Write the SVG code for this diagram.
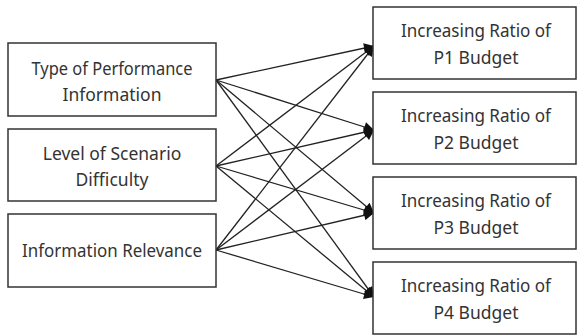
<svg xmlns="http://www.w3.org/2000/svg" width="578" height="336" viewBox="0 0 578 336">
<style>
.box{fill:#fff;stroke:#333;stroke-width:1.5}
.t{font-family:"Noto Sans","Liberation Sans",sans-serif;font-size:17.5px;fill:#333;text-anchor:middle}
.c{stroke:#222;stroke-width:1.3;fill:none;marker-end:url(#ah)}
</style>
<defs>
<marker id="ah" viewBox="0 0 10 10" refX="10" refY="5" markerWidth="11" markerHeight="10" markerUnits="userSpaceOnUse" orient="auto">
<path d="M0,0 L10,5 L0,10 z" fill="#111"/>
</marker>
</defs>
<rect width="578" height="336" fill="#fff"/>
<g id="connectors">
<line class="c" x1="216" y1="80" x2="374" y2="46"/>
<line class="c" x1="216" y1="80" x2="374" y2="130"/>
<line class="c" x1="216" y1="80" x2="374" y2="213"/>
<line class="c" x1="216" y1="80" x2="374" y2="297"/>
<line class="c" x1="216" y1="166" x2="374" y2="46"/>
<line class="c" x1="216" y1="166" x2="374" y2="130"/>
<line class="c" x1="216" y1="166" x2="374" y2="213"/>
<line class="c" x1="216" y1="166" x2="374" y2="297"/>
<line class="c" x1="216" y1="250" x2="374" y2="46"/>
<line class="c" x1="216" y1="250" x2="374" y2="130"/>
<line class="c" x1="216" y1="250" x2="374" y2="213"/>
<line class="c" x1="216" y1="250" x2="374" y2="297"/>
</g>
<g id="n1"><rect class="box" x="8" y="43" width="208" height="73"/><text class="t" x="112" y="75" textLength="161" lengthAdjust="spacingAndGlyphs">Type of Performance</text><text class="t" x="112" y="101">Information</text></g>
<g id="n2"><rect class="box" x="8" y="129" width="208" height="72"/><text class="t" x="112" y="160">Level of Scenario</text><text class="t" x="112" y="186">Difficulty</text></g>
<g id="n3"><rect class="box" x="8" y="214" width="208" height="73"/><text class="t" x="112" y="257" textLength="180" lengthAdjust="spacingAndGlyphs">Information Relevance</text></g>
<g id="n4"><rect class="box" x="373" y="7" width="203" height="72"/><text class="t" x="476" y="37" textLength="150" lengthAdjust="spacingAndGlyphs">Increasing Ratio of</text><text class="t" x="476" y="64">P1 Budget</text></g>
<g id="n5"><rect class="box" x="373" y="92" width="203" height="72"/><text class="t" x="476" y="122" textLength="150" lengthAdjust="spacingAndGlyphs">Increasing Ratio of</text><text class="t" x="476" y="149">P2 Budget</text></g>
<g id="n6"><rect class="box" x="373" y="177" width="203" height="72"/><text class="t" x="476" y="207" textLength="150" lengthAdjust="spacingAndGlyphs">Increasing Ratio of</text><text class="t" x="476" y="234">P3 Budget</text></g>
<g id="n7"><rect class="box" x="373" y="262" width="203" height="72"/><text class="t" x="476" y="292" textLength="150" lengthAdjust="spacingAndGlyphs">Increasing Ratio of</text><text class="t" x="476" y="319">P4 Budget</text></g>
</svg>
